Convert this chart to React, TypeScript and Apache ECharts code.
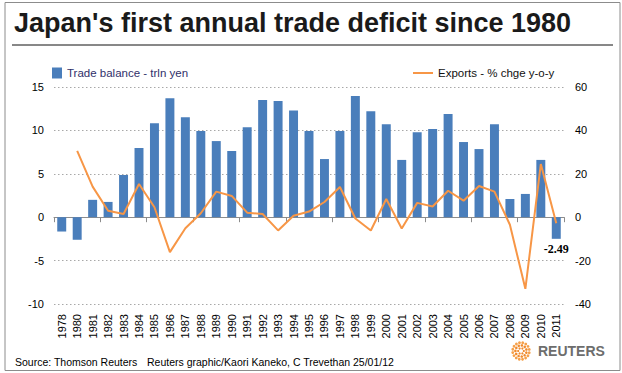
import React, { useEffect, useRef } from "react";
import * as echarts from "echarts";

const years = [
  "1978", "1980", "1981", "1982", "1983", "1984", "1985", "1986", "1987", "1988", "1989",
  "1990", "1991", "1992", "1993", "1994", "1995", "1996", "1997", "1998", "1999",
  "2000", "2001", "2002", "2003", "2004", "2005", "2006", "2007", "2008", "2009", "2010", "2011",
];

const tradeBalance = [
  -1.65, -2.6, 2.0, 1.76, 4.86, 7.96, 10.83, 13.7, 11.52, 9.92, 8.77,
  7.62, 10.37, 13.5, 13.4, 12.3, 9.92, 6.7, 9.92, 13.95, 12.2,
  10.7, 6.6, 9.8, 10.15, 11.9, 8.66, 7.85, 10.7, 2.1, 2.68, 6.6, -2.49,
];

const exportsChange = [
  null, 30.6, 14.1, 3.0, 1.5, 15.3, 4.6, -16.1, -5.1, 1.8, 11.8,
  9.8, 2.1, 1.5, -6.1, 0.7, 2.6, 7.0, 13.9, -0.6, -6.1,
  8.4, -5.2, 6.6, 4.9, 12.2, 7.6, 14.4, 11.8, -3.5, -33.0, 24.5, -2.8,
];

const leftTicks = { min: -10, max: 15, interval: 5 };
const rightTicks = { min: -40, max: 60, interval: 20 };

const barName = "Trade balance - trln yen";
const lineName = "Exports - % chge y-o-y";
const title = "Japan's first annual trade deficit since 1980";
const sourceText = "Source: Thomson Reuters";
const creditText = "Reuters graphic/Kaori Kaneko, C Trevethan 25/01/12";

const FONT = "'Liberation Sans', Arial, sans-serif";

function logoDots() {
  const cx = 521;
  const cy = 351;
  const rings = [
    { r: 2.8, n: 6, s: 1.1 },
    { r: 5.6, n: 11, s: 1.3 },
    { r: 8.4, n: 16, s: 1.4 },
  ];
  const out: any[] = [];
  rings.forEach((ring, ri) => {
    for (let k = 0; k < ring.n; k++) {
      const a = (k / ring.n) * Math.PI * 2 + ri * 0.3;
      out.push({
        type: "circle",
        shape: { cx: cx + ring.r * Math.cos(a), cy: cy + ring.r * Math.sin(a), r: ring.s },
        style: { fill: ri === 2 ? "#f5a04a" : "#f08a2c" },
        silent: true,
      });
    }
  });
  return out;
}

export default function App() {
  const ref = useRef<HTMLDivElement>(null);

  useEffect(() => {
    if (!ref.current) return;
    const chart = echarts.init(ref.current, undefined, { renderer: "svg" });
    const last = tradeBalance.length - 1;
    chart.setOption({
      animation: false,
      backgroundColor: "#ffffff",
      textStyle: { fontFamily: FONT },
      grid: { left: 54, right: 58, top: 87, bottom: 69, containLabel: false },
      legend: [
        {
          data: [barName],
          left: 52,
          top: 67,
          padding: 0,
          icon: "rect",
          itemWidth: 10,
          itemHeight: 11,
          selectedMode: false,
          textStyle: { color: "#30306a", fontSize: 11.5, fontFamily: FONT },
        },
        {
          data: [lineName],
          left: 413,
          top: 67,
          padding: 0,
          icon: "rect",
          itemWidth: 20,
          itemHeight: 2,
          selectedMode: false,
          textStyle: { color: "#111111", fontSize: 11.5, fontFamily: FONT },
        },
      ],
      xAxis: [
        {
          type: "category",
          data: years,
          boundaryGap: true,
          axisLine: { show: true, onZero: true, lineStyle: { color: "#8c8c8c", width: 1 } },
          axisTick: { show: true, interval: 2, length: 5, lineStyle: { color: "#8c8c8c" } },
          axisLabel: { show: false },
          splitLine: { show: false },
        },
        {
          type: "category",
          data: years,
          position: "bottom",
          boundaryGap: true,
          axisLine: { show: false, onZero: false },
          axisTick: { show: false },
          axisLabel: {
            show: true,
            interval: 0,
            rotate: 90,
            margin: 10,
            fontSize: 11,
            color: "#000000",
            fontFamily: FONT,
          },
          splitLine: { show: false },
        },
      ],
      yAxis: [
        {
          type: "value",
          ...leftTicks,
          axisLine: { show: false },
          axisTick: { show: false },
          axisLabel: { margin: 10, fontSize: 11, color: "#000000", fontFamily: FONT },
          splitLine: { show: true, lineStyle: { color: "#a8a8a8", type: [1.5, 2.5], width: 1 } },
        },
        {
          type: "value",
          ...rightTicks,
          position: "right",
          axisLine: { show: false },
          axisTick: { show: false },
          axisLabel: { margin: 11, fontSize: 11, color: "#000000", fontFamily: FONT },
          splitLine: { show: false },
        },
      ],
      series: [
        {
          name: barName,
          type: "bar",
          xAxisIndex: 0,
          yAxisIndex: 0,
          barWidth: "58%",
          itemStyle: { color: "#4a7ebb" },
          data: tradeBalance.map((v, i) =>
            i === last
              ? {
                  value: v,
                  label: {
                    show: true,
                    position: "bottom",
                    distance: 4,
                    formatter: "{c}",
                    fontFamily: "'Liberation Serif', 'Times New Roman', serif",
                    fontWeight: "bold",
                    fontSize: 12,
                    color: "#000000",
                  },
                }
              : v
          ),
        },
        {
          name: lineName,
          type: "line",
          xAxisIndex: 0,
          yAxisIndex: 1,
          symbol: "none",
          connectNulls: false,
          lineStyle: { color: "#f79646", width: 2 },
          itemStyle: { color: "#f79646" },
          data: exportsChange,
          z: 3,
        },
      ],
      graphic: [
        {
          type: "rect",
          shape: { x: 5, y: 2.5, width: 615, height: 368 },
          style: { fill: "none", stroke: "#8c8c8c", lineWidth: 1 },
          silent: true,
        },
        {
          type: "text",
          x: 14,
          y: 23,
          style: {
            text: title,
            font: `bold 27px ${FONT}`,
            fill: "#1a1a1a",
            verticalAlign: "middle",
          },
          silent: true,
        },
        {
          type: "line",
          shape: { x1: 12, y1: 45, x2: 613, y2: 45 },
          style: { stroke: "#111111", lineWidth: 1 },
          silent: true,
        },
        {
          type: "text",
          x: 15,
          y: 362,
          style: { text: sourceText, font: `10.5px ${FONT}`, fill: "#000000", verticalAlign: "middle" },
          silent: true,
        },
        {
          type: "text",
          x: 147,
          y: 362,
          style: { text: creditText, font: `10.5px ${FONT}`, fill: "#000000", verticalAlign: "middle" },
          silent: true,
        },
        ...logoDots(),
        {
          type: "text",
          x: 538,
          y: 351,
          style: { text: "REUTERS", font: `bold 14px ${FONT}`, fill: "#6d6d6d", verticalAlign: "middle" },
          silent: true,
        },
      ],
    });
    return () => chart.dispose();
  }, []);

  return (
    <div
      ref={ref}
      style={{ position: "fixed", left: 0, top: 0, width: 622, height: 373, background: "#fff" }}
    />
  );
}
